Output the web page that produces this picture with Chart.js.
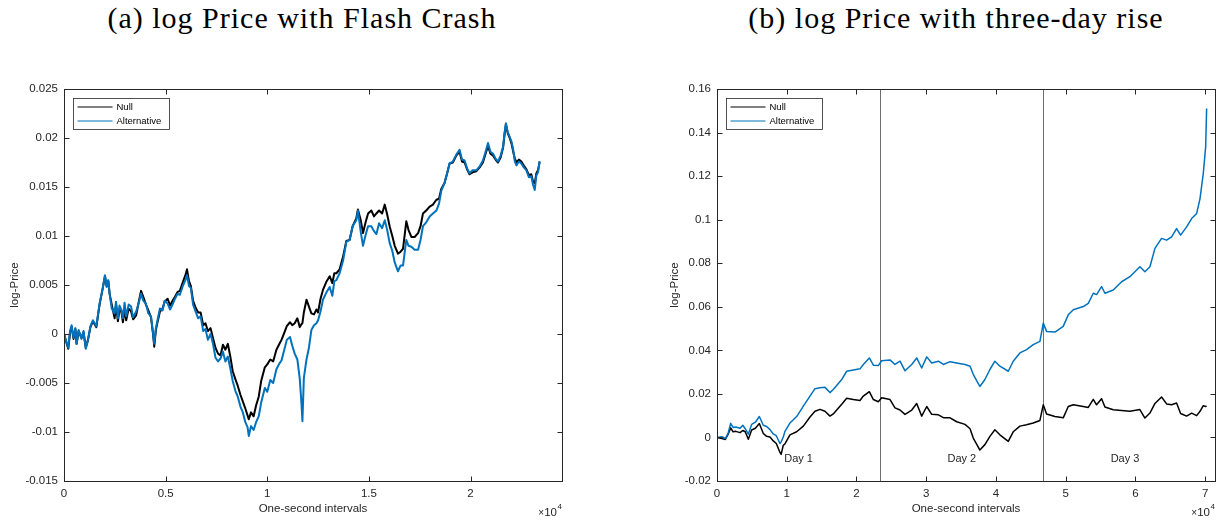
<!DOCTYPE html>
<html>
<head>
<meta charset="utf-8">
<title>log Price</title>
<script src="https://cdn.jsdelivr.net/npm/chart.js@4.4.1/dist/chart.umd.min.js"></script>
<style>
  body { margin: 0; background: #fff; width: 1226px; height: 523px; position: relative; overflow: hidden; }
  .cap { position: absolute; top: 0; width: 460px; text-align: center; font-family: "Liberation Serif", "DejaVu Serif", serif; font-size: 30px; letter-spacing: 1px; line-height: 35px; color: #000; white-space: nowrap; }
  .panel { position: absolute; top: 0; width: 613px; height: 523px; }
</style>
</head>
<body>
<div class="cap" style="left:72px;">(a) log Price with Flash Crash</div>
<div class="cap" style="left:726px;">(b) log Price with three-day rise</div>
<div class="panel" style="left:0;"><canvas id="flash"></canvas></div>
<div class="panel" style="left:613px;"><canvas id="rise"></canvas></div>
<script>
// ---- (a) flash crash, one trading day (seconds) ----
const flashTimes = [0, 120, 210, 300, 375, 470, 560, 620, 720, 860, 960, 1070, 1180, 1300, 1420, 1590, 1750, 1900, 2015, 2100,
  2180, 2245, 2350, 2490, 2560, 2650, 2730, 2815, 2900, 2980, 3060, 3180, 3300, 3400, 3550, 3680, 3790, 3900, 4030, 4150,
  4280, 4380, 4440, 4520, 4600, 4720, 4850, 4950, 5100, 5220, 5340, 5460, 5590, 5700, 5830, 5990, 6050, 6150, 6240, 6350,
  6470, 6600, 6720, 6850, 6960, 7080, 7210, 7330, 7450, 7580, 7700, 7820, 7940, 8060, 8190, 8300, 8430, 8550, 8680, 8800,
  8920, 9030, 9090, 9200, 9330, 9450, 9580, 9700, 9880, 10000, 10150, 10290, 10450, 10600, 10700, 10850, 10960, 11120, 11230, 11350,
  11480, 11600, 11680, 11730, 11800, 11930, 12050, 12170, 12300, 12420, 12500, 12620, 12740, 12900, 13070, 13200, 13300, 13400, 13560, 13730,
  13890, 14050, 14200, 14380, 14460, 14600, 14710, 14850, 14960, 15120, 15250, 15370, 15500, 15650, 15780, 15900, 16020, 16150, 16270, 16430,
  16560, 16680, 16840, 16950, 17090, 17250, 17420, 17540, 17660, 17820, 17990, 18150, 18320, 18450, 18560, 18720, 18850, 18970, 19130, 19300,
  19460, 19580, 19710, 19830, 19950, 20100, 20280, 20450, 20610, 20740, 20860, 20980, 21110, 21230, 21350, 21480, 21600, 21680, 21740, 21830,
  21930, 22020, 22100, 22180, 22260, 22380, 22500, 22620, 22750, 22870, 22990, 23080, 23160, 23240, 23320, 23400];
const flashNull = [0, -0.0009, -0.0015, 0.0002, 0.0007, -0.0005, 0.0005, -0.001, 0.0003, -0.0004, 0.0002, -0.0014, -0.0006, 0.0007, 0.0013, 0.0007, 0.003, 0.0046, 0.0059, 0.0049,
  0.0054, 0.0041, 0.003, 0.0016, 0.003, 0.0013, 0.0024, 0.0024, 0.0012, 0.0025, 0.0014, 0.0026, 0.0023, 0.0015, 0.0019, 0.0033, 0.0044, 0.0038, 0.003, 0.0024,
  0.0017, 0.0, -0.0013, 0.0004, 0.0012, 0.0023, 0.0026, 0.0033, 0.0036, 0.0029, 0.0034, 0.0038, 0.0043, 0.0044, 0.0052, 0.0061, 0.0066, 0.0054, 0.0049, 0.0034,
  0.0027, 0.0022, 0.0022, 0.0009, 0.0011, 0.0003, 0.0006, -0.0004, -0.0014, -0.002, -0.0022, -0.0011, -0.0016, -0.001, -0.0024, -0.0038, -0.0046, -0.0053, -0.0062, -0.0069,
  -0.0076, -0.0083, -0.0087, -0.008, -0.0084, -0.0073, -0.0064, -0.0048, -0.0034, -0.0031, -0.0026, -0.0028, -0.0016, -0.001, -0.0006, 0.0002, 0.0008, 0.0012, 0.0009, 0.0011,
  0.0016, 0.0007, 0.001, 0.0011, 0.0022, 0.0035, 0.0028, 0.0021, 0.002, 0.0025, 0.0022, 0.0036, 0.0045, 0.0053, 0.0059, 0.0052, 0.0062, 0.0062, 0.0066, 0.0079,
  0.0095, 0.0096, 0.011, 0.0118, 0.0127, 0.0116, 0.0103, 0.0115, 0.0123, 0.0126, 0.012, 0.0123, 0.0126, 0.0123, 0.0132, 0.0122, 0.011, 0.01, 0.009, 0.0082,
  0.0084, 0.0087, 0.0115, 0.0106, 0.0099, 0.0099, 0.0103, 0.011, 0.0123, 0.0126, 0.013, 0.0132, 0.0137, 0.0138, 0.0148, 0.0154, 0.0164, 0.0174, 0.0175, 0.0182,
  0.0186, 0.0176, 0.0175, 0.0168, 0.0163, 0.0165, 0.0166, 0.017, 0.0175, 0.0184, 0.0192, 0.0184, 0.0182, 0.0178, 0.0175, 0.018, 0.019, 0.0205, 0.0214, 0.0205,
  0.02, 0.0194, 0.0186, 0.0179, 0.0175, 0.0178, 0.0176, 0.0172, 0.0168, 0.0162, 0.0163, 0.0155, 0.0154, 0.0164, 0.0167, 0.0176];
const flashAlt = [0, -0.0008, -0.0014, 0.0003, 0.0009, -0.0004, 0.0006, -0.001, 0.0004, -0.0005, 0.0003, -0.0015, -0.0006, 0.0008, 0.0014, 0.0008, 0.0031, 0.0046, 0.006, 0.0048,
  0.0055, 0.0041, 0.0026, 0.0021, 0.0033, 0.0016, 0.0029, 0.0025, 0.0016, 0.0032, 0.0018, 0.003, 0.0028, 0.0017, 0.0023, 0.0032, 0.0041, 0.0034, 0.0031, 0.0021,
  0.0018, 0.0001, -0.001, 0.0006, 0.0014, 0.0026, 0.0024, 0.0034, 0.0031, 0.0025, 0.003, 0.0036, 0.0041, 0.004, 0.0048, 0.0056, 0.006, 0.0049, 0.0047, 0.003,
  0.0023, 0.0016, 0.0018, 0.0003, 0.0005, -0.0006, 0.0, -0.001, -0.0024, -0.0028, -0.0025, -0.0018, -0.0028, -0.0023, -0.0036, -0.0048, -0.0058, -0.0064, -0.0074, -0.008,
  -0.009, -0.0095, -0.0104, -0.0094, -0.0098, -0.009, -0.0084, -0.007, -0.0055, -0.0059, -0.0047, -0.005, -0.0036, -0.003, -0.0027, -0.0015, -0.0006, -0.0003, -0.0012, -0.002,
  -0.0026, -0.0046, -0.007, -0.0089, -0.0045, -0.0026, -0.0014, 0.0004, 0.0009, 0.0011, 0.0014, 0.0023, 0.0035, 0.0042, 0.0048, 0.0039, 0.0054, 0.0055, 0.0062, 0.0075,
  0.0094, 0.0096, 0.011, 0.0116, 0.0126, 0.0104, 0.009, 0.0102, 0.011, 0.011, 0.0105, 0.0102, 0.0113, 0.0108, 0.0116, 0.0106, 0.0093, 0.0085, 0.0073, 0.0064,
  0.007, 0.007, 0.0096, 0.009, 0.0089, 0.0086, 0.0086, 0.0096, 0.011, 0.0114, 0.012, 0.0123, 0.0126, 0.0133, 0.0146, 0.0154, 0.0164, 0.0174, 0.0176, 0.0183,
  0.0188, 0.0178, 0.0177, 0.0169, 0.0164, 0.0167, 0.0167, 0.0171, 0.0177, 0.0186, 0.0195, 0.0186, 0.0184, 0.0179, 0.0176, 0.0182, 0.0191, 0.0206, 0.0215, 0.0206,
  0.0201, 0.0196, 0.0188, 0.0176, 0.0172, 0.0176, 0.0174, 0.017, 0.0167, 0.016, 0.0161, 0.0152, 0.0147, 0.0162, 0.0165, 0.0176];
const flashXTicks = [0, 5000, 10000, 15000, 20000];
const flashYTicks = [-0.015, -0.01, -0.005, 0, 0.005, 0.01, 0.015, 0.02, 0.025];

// ---- (b) three-day rise ----
const riseTimes = [0, 700, 1200, 1600, 1960, 2300, 2700, 3300, 3700, 4050, 4490, 4970, 5500, 6070, 6640, 7120, 7600, 8070, 8500, 9030,
  9200, 9500, 9740, 10460, 11420, 12380, 13330, 14050, 14770, 15480, 16200, 16670, 17880, 18590, 19550, 20500, 20980, 21840, 22420, 23130,
  23610, 24810, 25520, 26240, 26960, 27920, 28630, 29350, 30070, 30780, 31740, 32460, 33410, 34370, 35560, 36280, 36740, 37300, 37690, 38410,
  39130, 39840, 40560, 41760, 42470, 43430, 44380, 45340, 46300, 46780, 47250, 48450, 49640, 50360, 51080, 52510, 53230, 53950, 54420, 55140,
  55620, 56810, 58010, 59200, 60630, 61350, 62070, 62790, 63740, 64460, 65180, 65890, 66470, 67330, 68050, 68770, 69250, 69720, 70060, 70200];
const riseNull = [0, -0.0005, -0.0009, 0.0015, 0.0044, 0.0026, 0.0028, 0.0022, 0.0032, 0.0026, -0.0008, 0.0034, 0.0042, 0.0064, 0.0018, 0.0005, 0.0002, -0.0016, -0.0028, -0.0069,
  -0.0078, -0.0036, -0.003, 0.0012, 0.0026, 0.0052, 0.0094, 0.012, 0.0129, 0.012, 0.0098, 0.0108, 0.0152, 0.018, 0.0174, 0.017, 0.019, 0.021, 0.0174, 0.0164,
  0.0182, 0.0174, 0.0136, 0.0126, 0.0106, 0.0126, 0.0156, 0.0098, 0.0142, 0.0106, 0.0104, 0.0091, 0.009, 0.0072, 0.006, 0.004, -0.0003, -0.0035, -0.0058, -0.0033,
  0.0005, 0.0035, 0.0012, -0.0018, 0.0026, 0.0052, 0.0058, 0.0066, 0.0078, 0.015, 0.0108, 0.0096, 0.009, 0.0142, 0.015, 0.0142, 0.0138, 0.0175, 0.015, 0.0178,
  0.014, 0.0127, 0.0124, 0.012, 0.0128, 0.0089, 0.0112, 0.0156, 0.0186, 0.0154, 0.015, 0.0158, 0.011, 0.0098, 0.0112, 0.01, 0.012, 0.0146, 0.0142, 0.0144];
const riseAlt = [0, 0.0003, -0.0005, 0.002, 0.0065, 0.0046, 0.0048, 0.0042, 0.0056, 0.004, 0.0015, 0.006, 0.007, 0.0096, 0.0056, 0.005, 0.0036, 0.0016, 0.0008, -0.0028,
  -0.002, 0.0002, 0.0028, 0.0066, 0.0096, 0.0144, 0.019, 0.0224, 0.0228, 0.023, 0.0206, 0.022, 0.0266, 0.0304, 0.031, 0.0315, 0.0335, 0.0365, 0.0332, 0.033,
  0.0352, 0.0356, 0.0335, 0.035, 0.0306, 0.0335, 0.0365, 0.0319, 0.037, 0.0342, 0.035, 0.0335, 0.0348, 0.0342, 0.0335, 0.0327, 0.029, 0.0256, 0.0234, 0.0266,
  0.0312, 0.035, 0.0327, 0.0304, 0.035, 0.0388, 0.0403, 0.0426, 0.0441, 0.0525, 0.0487, 0.0484, 0.051, 0.0563, 0.0586, 0.0601, 0.0616, 0.0662, 0.0656, 0.0693,
  0.0662, 0.0677, 0.0715, 0.0738, 0.0784, 0.0761, 0.0784, 0.0868, 0.0914, 0.0906, 0.0921, 0.0959, 0.0929, 0.0967, 0.1005, 0.1028, 0.1097, 0.1212, 0.1334, 0.151];
const riseXTicks = [0, 10000, 20000, 30000, 40000, 50000, 60000, 70000];
const riseYTicks = [-0.02, 0, 0.02, 0.04, 0.06, 0.08, 0.1, 0.12, 0.14, 0.16];
const dayBreaks = [23400, 46800];
const dayNames = ['Day 1', 'Day 2', 'Day 3'];
const dayMid = [11700, 35100, 58500];
const dayLabelY = -0.01;

const seriesNames = ['Null', 'Alternative'];
const seriesColors = ['#000000', '#0072BD'];
const AXIS = '#262626';
const FONT = '"Liberation Sans", Arial, Helvetica, sans-serif';

function pts(times, vals) {
	return times.map((t, i) => ({ x: t, y: vals[i] }));
}

// MATLAB look: box, inward ticks on all sides, boxed legend, x10^4 exponent, day marks
const matlabAxes = {
	id: 'matlabAxes',
	beforeDatasetsDraw(chart, args, opts) {
		const { ctx, chartArea: a, scales: { x } } = chart;
		if (!opts.breaks) return;
		ctx.save();
		ctx.strokeStyle = '#6e6e6e';
		ctx.lineWidth = 1;
		opts.breaks.forEach((b) => {
			const px = Math.round(x.getPixelForValue(b)) + 0.5;
			ctx.beginPath();
			ctx.moveTo(px, a.top);
			ctx.lineTo(px, a.bottom);
			ctx.stroke();
		});
		ctx.restore();
	},
	afterDatasetsDraw(chart, args, opts) {
		const { ctx, chartArea: a, scales: { x, y } } = chart;
		ctx.save();
		const L = Math.round(a.left) + 0.5, R = Math.round(a.right) + 0.5;
		const T = Math.round(a.top) + 0.5, B = Math.round(a.bottom) + 0.5;

		// day labels
		if (opts.dayNames) {
			ctx.fillStyle = AXIS;
			ctx.font = '11px ' + FONT;
			ctx.textAlign = 'center';
			ctx.textBaseline = 'middle';
			opts.dayNames.forEach((n, i) => {
				ctx.fillText(n, x.getPixelForValue(opts.dayMid[i]), y.getPixelForValue(opts.dayY));
			});
		}

		// box + inward ticks
		ctx.strokeStyle = AXIS;
		ctx.lineWidth = 1;
		ctx.strokeRect(L, T, R - L, B - T);
		ctx.beginPath();
		x.ticks.forEach((t) => {
			const px = Math.round(x.getPixelForValue(t.value)) + 0.5;
			ctx.moveTo(px, B); ctx.lineTo(px, B - 5);
			ctx.moveTo(px, T); ctx.lineTo(px, T + 5);
		});
		y.ticks.forEach((t) => {
			const py = Math.round(y.getPixelForValue(t.value)) + 0.5;
			ctx.moveTo(L, py); ctx.lineTo(L + 5, py);
			ctx.moveTo(R, py); ctx.lineTo(R - 5, py);
		});
		ctx.stroke();

		// legend box
		const lx = L + 9, ly = T + 9, lw = 96, lh = 31;
		ctx.fillStyle = '#fff';
		ctx.fillRect(lx, ly, lw, lh);
		ctx.strokeStyle = AXIS;
		ctx.lineWidth = 0.8;
		ctx.strokeRect(lx, ly, lw, lh);
		ctx.font = '9.5px ' + FONT;
		ctx.textAlign = 'left';
		ctx.textBaseline = 'middle';
		seriesNames.forEach((n, i) => {
			const ry = ly + 8.5 + i * 14;
			ctx.strokeStyle = seriesColors[i];
			ctx.lineWidth = 1;
			ctx.beginPath();
			ctx.moveTo(lx + 4, ry);
			ctx.lineTo(lx + 39, ry);
			ctx.stroke();
			ctx.fillStyle = '#000';
			ctx.fillText(n, lx + 43, ry + 0.5);
		});

		// x 10^4 exponent
		ctx.fillStyle = AXIS;
		ctx.textAlign = 'right';
		ctx.textBaseline = 'alphabetic';
		ctx.font = '8px ' + FONT;
		ctx.fillText('4', a.right, a.bottom + 28);
		ctx.font = '11.5px ' + FONT;
		ctx.fillText('10', a.right - 5, a.bottom + 35);
		ctx.font = '10px ' + FONT;
		ctx.fillText('\u00d7', a.right - 18, a.bottom + 35);
		ctx.restore();
	},
};

function makeChart(id, cfg) {
	return new Chart(document.getElementById(id), {
		type: 'line',
		data: {
			datasets: [
				{ label: seriesNames[0], data: pts(cfg.times, cfg.nul), borderColor: seriesColors[0], order: 1 },
				{ label: seriesNames[1], data: pts(cfg.times, cfg.alt), borderColor: seriesColors[1], order: 0 },
			],
		},
		options: {
			responsive: true,
			maintainAspectRatio: false,
			animation: false,
			events: [],
			elements: {
				line: { borderWidth: cfg.lw, tension: 0, borderJoinStyle: 'round' },
				point: { radius: 0 },
			},
			layout: { padding: { top: 89, right: cfg.padRight, left: cfg.padLeft, bottom: 0 } },
			plugins: {
				legend: { display: false },
				tooltip: { enabled: false },
				matlabAxes: cfg.extra || {},
			},
			scales: {
				x: {
					type: 'linear',
					min: 0,
					max: cfg.xMax,
					afterBuildTicks: (s) => { s.ticks = cfg.xTicks.map((v) => ({ value: v })); },
					afterFit: (s) => { s.height = 42; },
					grid: { display: false, drawTicks: false },
					border: { display: false },
					ticks: {
						padding: 6,
						color: AXIS,
						font: { family: FONT, size: 11.5 },
						maxRotation: 0,
						callback: (v) => String(v / 10000),
					},
					title: {
						display: true,
						text: 'One-second intervals',
						color: AXIS,
						font: { family: FONT, size: 11.5 },
						padding: { top: 0, bottom: 7 },
					},
				},
				y: {
					type: 'linear',
					min: cfg.yTicks[0],
					max: cfg.yTicks[cfg.yTicks.length - 1],
					afterBuildTicks: (s) => { s.ticks = cfg.yTicks.map((v) => ({ value: v })); },
					afterFit: (s) => { s.width = 64; },
					grid: { display: false, drawTicks: false },
					border: { display: false },
					ticks: {
						padding: 6,
						color: AXIS,
						font: { family: FONT, size: 11.5 },
						callback: (v) => String(+v.toFixed(3)),
					},
					title: {
						display: true,
						text: 'log-Price',
						color: AXIS,
						font: { family: FONT, size: 11.5 },
						padding: { top: cfg.yTitlePad, bottom: 0 },
					},
				},
			},
		},
		plugins: [matlabAxes],
	});
}

makeChart('flash', {
	times: flashTimes, nul: flashNull, alt: flashAlt,
	xTicks: flashXTicks, yTicks: flashYTicks, xMax: 24500,
	padLeft: 0, padRight: 51, yTitlePad: 8, lw: 2,
});

makeChart('rise', {
	times: riseTimes, nul: riseNull, alt: riseAlt,
	xTicks: riseXTicks, yTicks: riseYTicks, xMax: 71400,
	padLeft: 40, padRight: 11, yTitlePad: 15, lw: 1.5,
	extra: { breaks: dayBreaks, dayNames: dayNames, dayMid: dayMid, dayY: dayLabelY },
});
</script>
</body>
</html>
